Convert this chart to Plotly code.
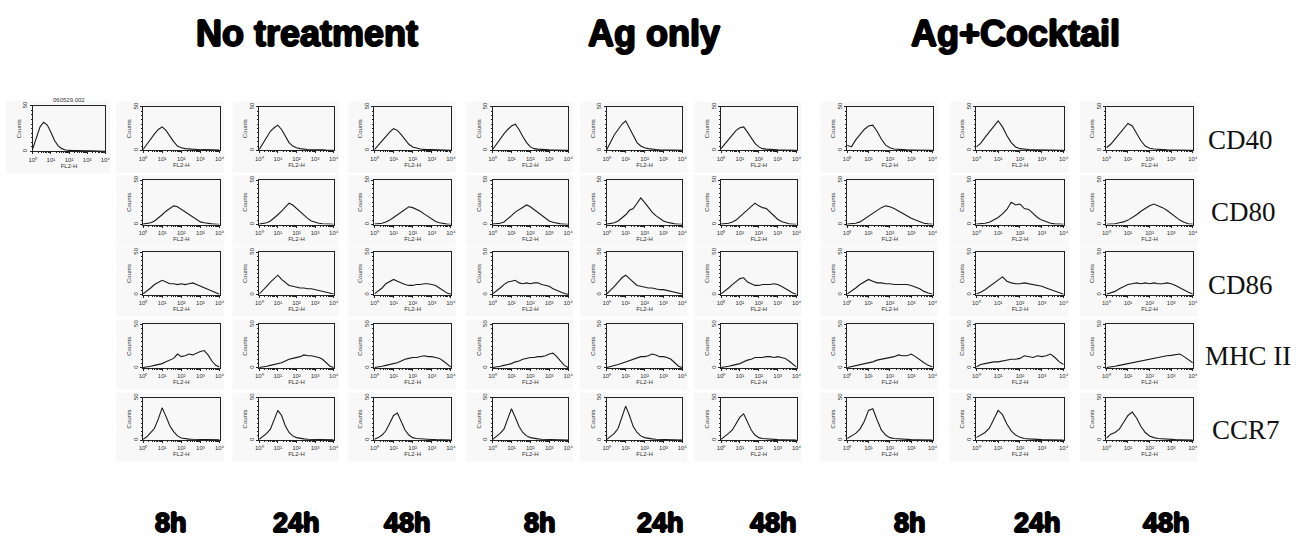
import math
import plotly.graph_objects as go

# ---------------- data ----------------
log_decade = [0.0, 0.2, 0.4, 0.6, 0.8, 1.0, 1.2, 1.4, 1.6, 1.8, 2.0,
              2.2, 2.4, 2.6, 2.8, 3.0, 3.2, 3.4, 3.6, 3.8, 4.0]

treatments = ["No treatment", "Ag only", "Ag+Cocktail"]
time_labels = ["8h", "24h", "48h"]
markers = ["CD40", "CD80", "CD86", "MHC II", "CCR7"]
control_sample = "060529.002"
x_tick_text = ["10\u2070", "10\u00b9", "10\u00b2", "10\u00b3", "10\u2074"]
y_tick_text = ["0", "50"]
x_title = "FL2-H"
y_title = "Counts"

control = [3, 16, 27, 32, 29, 21, 12, 6, 3, 1.5, 1, 0.8, 1, 0.6, 0.8, 0.5, 0.7, 0.4, 0.5, 0.3, 0.2]

cd40_nt_8h = [1, 7, 14, 19, 24, 27, 23, 16, 10, 5, 3, 2, 1.5, 1, 1.2, 0.8, 1, 0.6, 0.8, 0.5, 0.3]
cd40_nt_24h = [1, 8, 16, 22, 26, 29, 24, 16, 9, 5, 3, 2, 1.2, 1, 0.8, 1, 0.6, 0.8, 0.5, 0.4, 0.2]
cd40_nt_48h = [1, 6, 12, 17, 21, 25, 23, 18, 12, 7, 4, 2.5, 1.5, 1.2, 1, 0.8, 1, 0.6, 0.5, 0.4, 0.2]
cd40_ag_8h = [1, 7, 14, 19, 24, 28, 30, 24, 16, 9, 4, 2, 1.5, 1, 0.8, 0.6, 0.5, 0.4, 0.5, 0.3, 0.2]
cd40_ag_24h = [1, 9, 18, 24, 30, 34, 26, 17, 9, 5, 3, 2, 1.2, 1, 0.8, 0.6, 0.5, 0.4, 0.3, 0.3, 0.2]
cd40_ag_48h = [2, 7, 13, 18, 23, 26, 27, 21, 14, 8, 4, 2, 1.5, 1, 0.8, 0.6, 0.5, 0.4, 0.3, 0.2, 0.2]
cd40_ck_8h = [6, 4, 12, 18, 24, 28, 29, 22, 13, 6, 3, 1.5, 1, 0.8, 0.6, 0.5, 0.5, 0.4, 0.3, 0.3, 0.2]
cd40_ck_24h = [4, 8, 15, 21, 27, 34, 27, 17, 9, 4, 2, 1.2, 1, 0.8, 0.6, 0.5, 0.4, 0.3, 0.3, 0.2, 0.2]
cd40_ck_48h = [3, 7, 13, 19, 25, 31, 28, 19, 11, 5, 2.5, 1.5, 1, 0.8, 0.6, 0.5, 0.4, 0.3, 0.3, 0.2, 0.2]

cd80_nt_8h = [0.5, 1, 2, 4, 7, 11, 15, 18, 21, 20, 17, 14, 11, 8, 5, 3, 2, 1, 0.8, 0.5, 0.3]
cd80_nt_24h = [0.5, 1, 2, 4, 7, 11, 15, 20, 24, 22, 18, 14, 10, 7, 4, 2.5, 1.5, 1, 0.6, 0.4, 0.3]
cd80_nt_48h = [0.5, 0.8, 1.5, 3, 5, 8, 11, 14, 17, 20, 19, 17, 15, 12, 9, 6, 3.5, 2, 1, 0.5, 0.3]
cd80_ag_8h = [0.5, 0.8, 1.5, 3, 6, 10, 14, 17, 20, 22, 20, 17, 13, 10, 7, 4, 2.5, 1.5, 0.8, 0.5, 0.3]
cd80_ag_24h = [0.5, 1, 2, 4, 7, 11, 16, 18, 24, 30, 25, 19, 14, 10, 7, 4, 2.5, 1.5, 0.8, 0.5, 0.3]
cd80_ag_48h = [0.5, 0.8, 1.5, 3, 5, 9, 13, 17, 21, 24, 21, 19, 18, 14, 10, 6, 3.5, 2, 1, 0.5, 0.3]
cd80_ck_8h = [0.5, 0.8, 1.5, 3, 6, 9, 13, 16, 19, 21, 20, 18, 15, 12, 9, 7, 5, 3, 1.5, 0.8, 0.4]
cd80_ck_24h = [0.5, 0.8, 1.5, 2.5, 5, 8, 12, 17, 25, 22, 23, 18, 17, 12, 8, 5, 3, 1.5, 0.8, 0.5, 0.3]
cd80_ck_48h = [0.3, 0.5, 1, 2, 3, 5, 8, 11, 15, 18, 21, 23, 21, 19, 16, 12, 8, 5, 2.5, 1, 0.5]

cd86_nt_8h = [1, 4, 8, 12, 15, 17, 15, 13, 13, 12, 13, 12, 13, 14, 12, 10, 8, 6, 4, 2, 0.5]
cd86_nt_24h = [1, 5, 10, 15, 19, 23, 18, 14, 11, 10, 9, 8, 8, 7, 7, 6, 5, 4, 3, 2, 1]
cd86_nt_48h = [1, 4, 8, 13, 16, 18, 16, 14, 12, 11, 11, 12, 12, 13, 13, 12, 11, 8, 5, 2, 0.5]
cd86_ag_8h = [1, 4, 8, 12, 15, 16, 17, 14, 13, 14, 13, 14, 14, 12, 11, 10, 7, 5, 3, 1.5, 0.5]
cd86_ag_24h = [1, 5, 10, 15, 20, 23, 19, 15, 11, 10, 9, 8, 8, 7, 6, 6, 5, 4, 3, 2, 1]
cd86_ag_48h = [1, 4, 8, 12, 16, 19, 20, 15, 13, 11, 11, 12, 12, 12, 13, 12, 10, 7, 4, 2, 0.5]
cd86_ck_8h = [1, 4, 8, 12, 15, 18, 16, 14, 14, 13, 13, 12, 12, 12, 12, 11, 9, 7, 4, 2, 1]
cd86_ck_24h = [1, 3, 6, 10, 14, 18, 21, 16, 14, 13, 13, 14, 13, 12, 11, 10, 8, 6, 4, 2, 0.5]
cd86_ck_48h = [0.5, 2, 4, 7, 10, 12, 13, 14, 13, 14, 13, 14, 13, 13, 14, 13, 11, 8, 5, 3, 1]

mhc_nt_8h = [0.5, 1, 2, 3, 4, 5, 7, 9, 11, 16, 13, 14, 16, 15, 17, 19, 20, 15, 8, 3, 1]
mhc_nt_24h = [0.5, 1, 2, 3, 4, 5, 6, 8, 10, 11, 12, 13, 15, 14, 14, 13, 12, 10, 6, 2, 0.5]
mhc_nt_48h = [0.5, 1, 2, 3, 4, 5, 6, 8, 10, 11, 12, 12, 13, 14, 13, 13, 12, 11, 8, 4, 1]
mhc_ag_8h = [0.5, 1, 2, 3, 4, 5, 7, 8, 10, 11, 12, 12, 13, 13, 14, 16, 17, 13, 8, 3, 0.5]
mhc_ag_24h = [0.5, 1.5, 3, 4, 5.5, 7, 9, 10, 12, 13, 13, 14, 16, 15, 13, 13, 12, 10, 6, 2, 0.5]
mhc_ag_48h = [0.5, 1, 2, 3, 4, 5, 7, 9, 10, 12, 12, 12, 13, 13, 12, 13, 12, 11, 8, 4, 1]
mhc_ck_8h = [0.5, 1.5, 2.5, 4, 5, 6, 7, 9, 10, 11, 12, 13, 15, 14, 14, 16, 13, 10, 6, 3, 1]
mhc_ck_24h = [1, 4, 5, 6, 7, 7, 8, 9, 10, 10, 11, 14, 13, 12, 14, 13, 14, 16, 12, 7, 4]
mhc_ck_48h = [0.5, 1, 2, 3, 4, 5.5, 6, 7.5, 8, 9.5, 10, 11.5, 12, 13.5, 14, 14.5, 15, 16, 13, 9, 6]

ccr7_nt_8h = [1, 4, 9, 14, 25, 38, 28, 17, 10, 5, 2.5, 1.5, 1.2, 1, 0.8, 1, 0.8, 0.6, 0.8, 0.5, 0.3]
ccr7_nt_24h = [1, 4, 8, 13, 24, 35, 29, 17, 9, 5, 3, 2, 1.5, 1, 1, 0.8, 0.8, 0.6, 0.5, 0.5, 0.3]
ccr7_nt_48h = [1, 3, 6, 11, 20, 29, 32, 22, 12, 6, 3, 2, 1.5, 1, 0.8, 0.8, 0.6, 0.5, 0.4, 0.3, 0.2]
ccr7_ag_8h = [1, 4, 8, 13, 25, 37, 27, 16, 9, 5, 3, 2, 1.5, 1, 0.8, 0.8, 1, 0.5, 0.4, 0.3, 0.2]
ccr7_ag_24h = [1, 4, 8, 14, 27, 40, 29, 16, 9, 5, 3, 2, 1.5, 1, 0.8, 0.6, 0.5, 0.4, 0.3, 0.3, 0.2]
ccr7_ag_48h = [1, 4, 8, 12, 19, 27, 31, 22, 12, 6, 3, 2, 1.5, 1, 0.8, 0.6, 0.5, 0.4, 0.3, 0.2, 0.2]
ccr7_ck_8h = [2, 5, 8, 13, 22, 35, 37, 24, 12, 6, 3, 2, 1.5, 1, 0.8, 0.6, 0.5, 0.4, 0.3, 0.3, 0.2]
ccr7_ck_24h = [3, 6, 9, 14, 24, 35, 30, 19, 11, 6, 3.5, 2, 1.5, 1, 0.8, 0.6, 0.5, 0.4, 0.3, 0.3, 0.2]
ccr7_ck_48h = [2, 7, 9, 13, 21, 29, 33, 26, 16, 9, 5, 3, 2, 1.5, 1, 0.8, 0.6, 0.5, 0.4, 0.3, 0.2]

panels = [
    [cd40_nt_8h, cd40_nt_24h, cd40_nt_48h, cd40_ag_8h, cd40_ag_24h, cd40_ag_48h, cd40_ck_8h, cd40_ck_24h, cd40_ck_48h],
    [cd80_nt_8h, cd80_nt_24h, cd80_nt_48h, cd80_ag_8h, cd80_ag_24h, cd80_ag_48h, cd80_ck_8h, cd80_ck_24h, cd80_ck_48h],
    [cd86_nt_8h, cd86_nt_24h, cd86_nt_48h, cd86_ag_8h, cd86_ag_24h, cd86_ag_48h, cd86_ck_8h, cd86_ck_24h, cd86_ck_48h],
    [mhc_nt_8h, mhc_nt_24h, mhc_nt_48h, mhc_ag_8h, mhc_ag_24h, mhc_ag_48h, mhc_ck_8h, mhc_ck_24h, mhc_ck_48h],
    [ccr7_nt_8h, ccr7_nt_24h, ccr7_nt_48h, ccr7_ag_8h, ccr7_ag_24h, ccr7_ag_48h, ccr7_ck_8h, ccr7_ck_24h, ccr7_ck_48h],
]

# ---------------- layout geometry (pixels) ----------------
W, H = 1309, 546
col_px = [(140, 217), (257, 332), (373, 450), (492, 568), (607, 683),
          (722, 798), (849, 935), (979, 1067), (1110, 1197)]
row_px = [(103, 147), (177, 222), (250, 293), (323, 367), (397, 440)]
ctrl_px = ((29, 102), (102, 148))
title_x = [305, 655, 1018]
title_y = 29
time_x = [168, 295, 406, 540, 661, 775, 912, 1041, 1171]
time_y = 524
marker_x = [1210, 1213, 1210, 1207, 1214]
marker_y = [137, 209, 283, 355, 430]

minor_x = [d + math.log10(k) for d in range(4) for k in range(2, 10)]

SANS = "Liberation Sans, Arial, sans-serif"
TICKFONT = dict(family=SANS, size=6, color="#333")
LINE = "#222"

fig = go.Figure()
layout = dict(
    width=W, height=H, margin=dict(l=0, r=0, t=0, b=0),
    paper_bgcolor="white", plot_bgcolor="white", showlegend=False,
    shapes=[], annotations=[],
)


def px_x(p):
    return p / W


def px_y(p):
    return 1 - p / H


def add_panel(idx, xr, yr, vals):
    sx = "" if idx == 1 else str(idx)
    layout["xaxis" + sx] = dict(
        domain=[px_x(xr[0]), px_x(xr[1])], range=[0, 4], anchor="y" + sx,
        tickvals=[0, 1, 2, 3, 4], ticktext=x_tick_text, tickfont=TICKFONT,
        ticks="outside", ticklen=2, tickwidth=1, tickcolor=LINE,
        showline=True, linecolor=LINE, linewidth=1, mirror=True,
        showgrid=False, zeroline=False, fixedrange=True,
        minor=dict(ticks="outside", ticklen=1, tickvals=minor_x, tickcolor=LINE),
        title=dict(text=x_title, font=TICKFONT, standoff=0),
    )
    layout["yaxis" + sx] = dict(
        domain=[px_y(yr[1]), px_y(yr[0])], range=[0, 50], anchor="x" + sx,
        tickvals=[0, 50], ticktext=y_tick_text, tickangle=-90, tickfont=TICKFONT,
        ticks="outside", ticklen=2, tickwidth=1, tickcolor=LINE,
        showline=True, linecolor=LINE, linewidth=1, mirror=True,
        showgrid=False, zeroline=False, fixedrange=True,
        minor=dict(ticks="outside", ticklen=1, dtick=5, tickcolor=LINE),
        title=dict(text=y_title, font=TICKFONT, standoff=0),
    )
    layout["shapes"].append(dict(
        type="rect", xref="paper", yref="paper", layer="below",
        x0=px_x(xr[0] - 27), x1=px_x(xr[1] + 5),
        y0=px_y(yr[1] + 22), y1=px_y(yr[0] - 5),
        fillcolor="#f8f8f8", line=dict(width=0),
    ))
    fig.add_trace(go.Scatter(
        x=log_decade, y=vals, mode="lines",
        line=dict(color="#1a1a1a", width=1.1),
        xaxis="x" + sx, yaxis="y" + sx, hoverinfo="skip",
    ))


idx = 1
add_panel(idx, ctrl_px[0], ctrl_px[1], control)
layout["annotations"].append(dict(
    text=control_sample, x=px_x((ctrl_px[0][0] + ctrl_px[0][1]) / 2), y=px_y(ctrl_px[1][0] - 1),
    xref="paper", yref="paper", xanchor="center", yanchor="bottom", showarrow=False,
    font=dict(family=SANS, size=6, color="#333"),
))
for r, row in enumerate(panels):
    for c, vals in enumerate(row):
        idx += 1
        add_panel(idx, col_px[c], row_px[r], vals)

heavy = "1px 0 0 #000, -1px 0 0 #000, 0 1px 0 #000, 0 -1px 0 #000"
for t, x in zip(treatments, title_x):
    layout["annotations"].append(dict(
        text="<b>" + t + "</b>", x=px_x(x), y=px_y(title_y), xref="paper", yref="paper",
        xanchor="center", yanchor="middle", showarrow=False,
        font=dict(family=SANS, size=36, color="#000", shadow=heavy),
    ))
for i, x in enumerate(time_x):
    layout["annotations"].append(dict(
        text="<b>" + time_labels[i % 3] + "</b>", x=px_x(x), y=px_y(time_y),
        xref="paper", yref="paper", xanchor="center", yanchor="middle", showarrow=False,
        font=dict(family=SANS, size=27, color="#000", shadow=heavy),
    ))
for m, x, y in zip(markers, marker_x, marker_y):
    layout["annotations"].append(dict(
        text=m, x=px_x(x), y=px_y(y), xref="paper", yref="paper",
        xanchor="left", yanchor="middle", showarrow=False,
        font=dict(family="Liberation Serif, Times New Roman, serif", size=27, color="#111"),
    ))

fig.update_layout(**layout)
fig.write_html("out.html")
